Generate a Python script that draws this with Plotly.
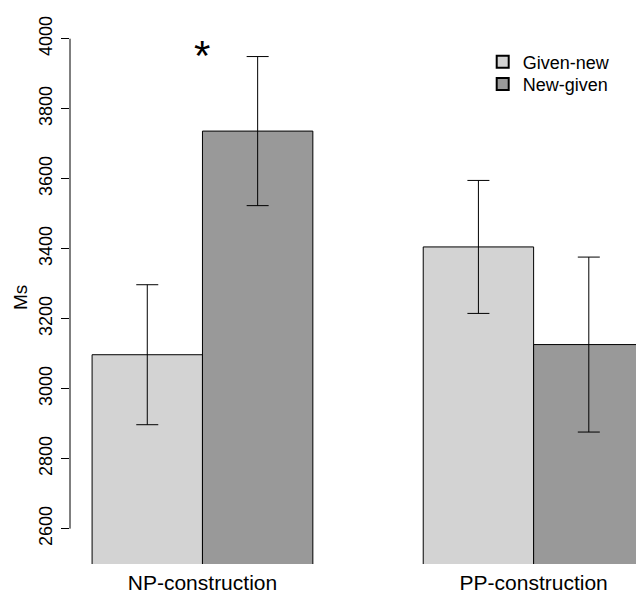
import plotly.graph_objects as go

categories = ["NP-construction", "PP-construction"]
series_names = ["Given-new", "New-given"]
given_new = [3097, 3405]
given_new_err = [200, 190]
new_given = [3736, 3126]
new_given_err = [213, 250]
y_ticks = [2600, 2800, 3000, 3200, 3400, 3600, 3800, 4000]

# bar positions in R barplot units (beside=TRUE, space=c(0,1))
gn_x = [1.5, 4.5]
ng_x = [2.5, 5.5]
group_centers = [2, 5]

FONT = "Liberation Sans, Arial, Helvetica, sans-serif"

# page body has an 8px default margin; compensate in the figure margins
L, R, T, B = 62, 8, 2, 40
W, H = 644, 596
PW, PH = W - L - R, H - T - B

fig = go.Figure()
fig.add_trace(go.Bar(
    x=gn_x, y=given_new, width=1, name=series_names[0], legend="legend",
    marker=dict(color="#d3d3d3", line=dict(color="black", width=1)),
    error_y=dict(type="data", array=given_new_err, color="black", thickness=1, width=11),
))
fig.add_trace(go.Bar(
    x=ng_x, y=new_given, width=1, name=series_names[1], legend="legend2",
    marker=dict(color="#999999", line=dict(color="black", width=1)),
    error_y=dict(type="data", array=new_given_err, color="black", thickness=1, width=11),
))

# R-style y axis line spanning only the tick range
fig.add_shape(type="line", xref="paper", yref="y", x0=0, x1=0,
              y0=y_ticks[0], y1=y_ticks[-1], line=dict(color="black", width=1))

fig.add_annotation(x=2, y=3973, xref="x", yref="y", text="*", showarrow=False,
                   font=dict(size=42, color="black", family=FONT), yshift=-7)

# y axis title "Ms"
fig.add_annotation(x=(12 - L) / PW, y=(PH + T - 290) / PH, xref="paper", yref="paper",
                   xanchor="center", yanchor="middle",
                   text="Ms", textangle=-90, showarrow=False,
                   font=dict(size=19, color="black", family=FONT))

leg_common = dict(xanchor="left", yanchor="middle", font=dict(size=18),
                  bgcolor="rgba(0,0,0,0)", itemsizing="constant")

fig.update_layout(
    width=W, height=H,
    margin=dict(l=L, r=R, t=T, b=B, autoexpand=False),
    plot_bgcolor="white", paper_bgcolor="white",
    barmode="overlay",
    font=dict(family=FONT, size=18, color="black"),
    showlegend=True,
    legend=dict(x=0.719, y=0.906, **leg_common),
    legend2=dict(x=0.719, y=0.866, **leg_common),
    xaxis=dict(range=[0.8, 6.0], tickvals=group_centers, ticktext=categories,
               showgrid=False, zeroline=False, showline=False, ticks="",
               automargin=False, ticklabelstandoff=4,
               tickfont=dict(size=21)),
    yaxis=dict(range=[2499, 4082], tickvals=y_ticks, tickangle=-90,
               showgrid=False, zeroline=False, showline=False,
               ticks="outside", ticklen=8, tickcolor="black", tickwidth=1,
               ticklabelstandoff=2, automargin=False,
               tickfont=dict(size=18)),
)

fig.write_html("out.html")
